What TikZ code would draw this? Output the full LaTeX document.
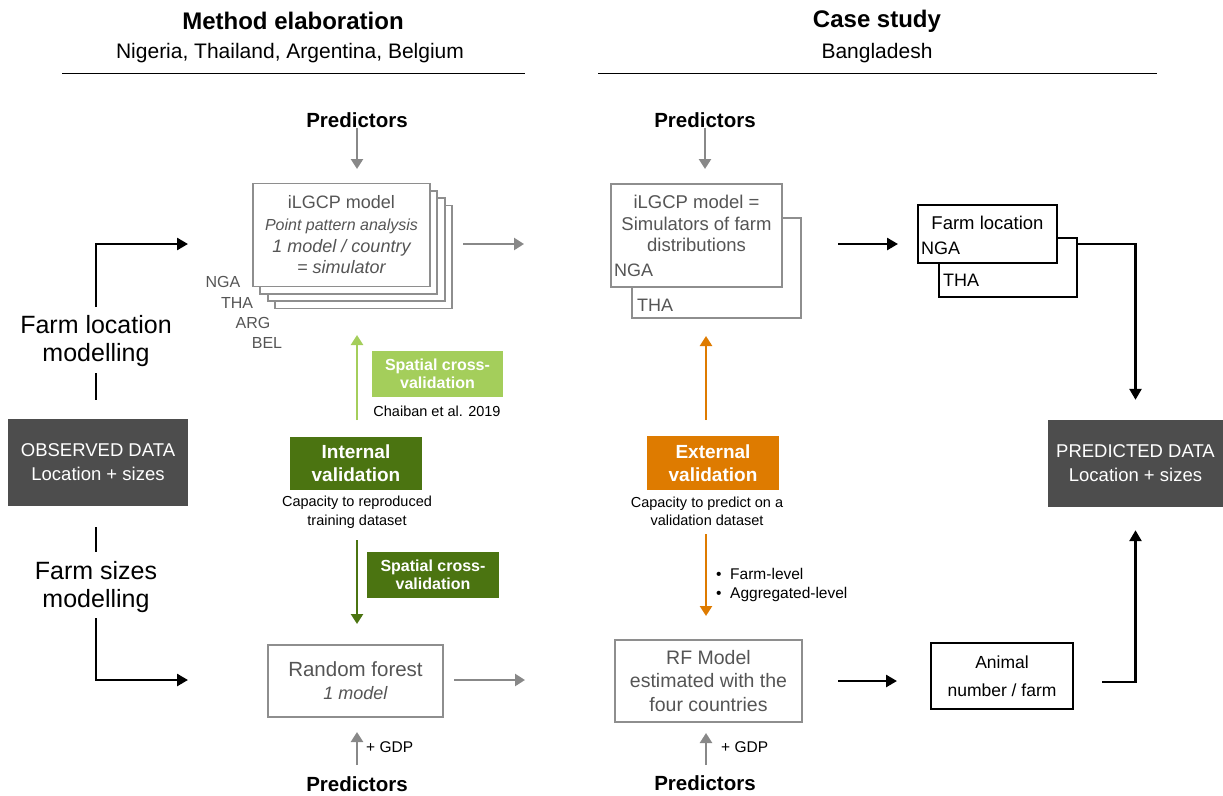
\documentclass[tikz,border=0pt]{standalone}
\usepackage{fontspec}
\setmainfont{Liberation Sans}
\usetikzlibrary{arrows.meta}
\definecolor{gline}{HTML}{8E8E8E}
\definecolor{gtext}{HTML}{555555}
\definecolor{garr}{HTML}{888888}
\definecolor{lgreen}{HTML}{A4CE5B}
\definecolor{dgreen}{HTML}{4B7411}
\definecolor{orng}{HTML}{DE7B00}
\definecolor{dbox}{HTML}{4D4D4D}
\tikzset{
  txt/.style={inner sep=0pt, align=center},
  title/.style={txt, font=\fontsize{24}{28}\selectfont\bfseries},
  subtitle/.style={txt, font=\fontsize{21}{25}\selectfont},
  predtxt/.style={txt, font=\fontsize{20.5}{24}\selectfont\bfseries},
  ctry/.style={txt, text=gtext, font=\fontsize{16}{19}\selectfont},
  gbox/.style={draw=gline, line width=1.8pt, fill=white, text=gtext, inner sep=0pt, align=center},
  bbox/.style={draw=black, line width=1.8pt, fill=white, inner sep=0pt, align=center},
  darkbox/.style={fill=dbox, text=white, inner sep=0pt, align=center, font=\fontsize{18.5}{24}\selectfont},
  valbox/.style={text=white, inner sep=0pt, align=center, font=\fontsize{19}{23}\selectfont\bfseries},
  scvbox/.style={text=white, inner sep=0pt, align=center, font=\fontsize{16}{18.5}\selectfont\bfseries},
  smalltxt/.style={txt, font=\fontsize{14.5}{19}\selectfont},
  sidetxt/.style={txt, font=\fontsize{25}{28.5}\selectfont},
  garrow/.style={draw=garr, line width=2.4pt, -{Triangle[length=10pt,width=12pt]}},
  barrow/.style={draw=black, line width=2.6pt, -{Triangle[length=11pt,width=12pt]}},
  bline/.style={draw=black, line width=2.6pt},
  carrow/.style={line width=2.4pt, -{Triangle[length=10pt,width=12pt]}},
}
\begin{document}
\begin{tikzpicture}[x=1pt,y=-1pt]
\useasboundingbox (0,0) rectangle (1223,795);

% ---------- headers ----------
\node[title] (t1) at (293,21) {Method elaboration};
\node[subtitle] (s1) at (290,53) {Nigeria, Thailand, Argentina, Belgium};
\node[title] (t2) at (877,21) {Case study};
\node[subtitle] (s2) at (877,53) {Bangladesh};
\coordinate (r1a) at (62,73.5);  \coordinate (r1b) at (525,73.5);
\coordinate (r2a) at (598,73.5); \coordinate (r2b) at (1157,73.5);
\draw[line width=1.6pt] (r1a) -- (r1b);
\draw[line width=1.6pt] (r2a) -- (r2b);

% ---------- predictors (top) ----------
\node[predtxt] (pred1) at (357,120) {Predictors};
\node[predtxt] (pred2) at (705,120) {Predictors};

% ---------- iLGCP stack (left) ----------
\node[gbox, minimum width=177pt, minimum height=103pt] (st4) at (363.4,256.9) {};
\node[gbox, minimum width=177pt, minimum height=103pt] (st3) at (356.1,249.6) {};
\node[gbox, minimum width=177pt, minimum height=103pt] (st2) at (348.8,242.3) {};
\node[gbox, minimum width=177pt, minimum height=103pt, font=\fontsize{18}{21.7}\selectfont] (st1) at (341.5,235)
  {iLGCP model\\ {\fontsize{16}{21.7}\selectfont\itshape Point pattern analysis}\\ \itshape 1 model / country\\ \itshape = simulator};
\node[ctry] (nga1) at (223,282) {NGA};
\node[ctry] (tha1) at (237,303) {THA};
\node[ctry] (arg1) at (253,323) {ARG};
\node[ctry] (bel1) at (267,343) {BEL};

\coordinate (p1e) at (357,169);
\draw[garrow] (pred1.south) -- (p1e);

% ---------- iLGCP (case study) ----------
\node[gbox, minimum width=169pt, minimum height=100pt] (ilgb) at (716.5,268) {};
\node[ctry, anchor=west, font=\fontsize{18}{21}\selectfont] (tha2) at (637,305) {THA};
\node[gbox, minimum width=171pt, minimum height=103pt] (ilg) at (696.5,235.5) {};
\node[txt, text=gtext, font=\fontsize{18.5}{21.5}\selectfont] (ilgt) at (696.5,223.5) {iLGCP model =\\ Simulators of farm\\ distributions};
\node[ctry, anchor=west, font=\fontsize{18}{21}\selectfont] (nga2) at (614,270) {NGA};

\coordinate (p2e) at (705,169);
\draw[garrow] (pred2.south) -- (p2e);

% arrow between columns (top)
\coordinate (m1s) at (463,244); \coordinate (m1e) at (524,244);
\draw[garrow] (m1s) -- (m1e);

% ---------- Farm location boxes ----------
\node[bbox, minimum width=138pt, minimum height=59pt] (flb) at (1008,267.5) {};
\node[txt, anchor=west, font=\fontsize{18}{21}\selectfont] (tha3) at (943,280) {THA};
\node[bbox, minimum width=139pt, minimum height=58pt] (flf) at (987.5,234) {};
\node[txt, font=\fontsize{18.5}{21}\selectfont] (flt) at (987.5,223) {Farm location};
\node[txt, anchor=west, font=\fontsize{18}{21}\selectfont] (nga3) at (921,248) {NGA};

\coordinate (m2s) at (838,244); \coordinate (m2e) at (898,244);
\draw[barrow] (m2s) -- (m2e);

% ---------- observed / predicted ----------
\node[darkbox, minimum width=180pt, minimum height=87pt] (obs) at (98,462.5) {OBSERVED DATA\\ Location + sizes};
\node[darkbox, minimum width=175pt, minimum height=87pt] (pred) at (1135.5,463.5) {PREDICTED DATA\\ Location + sizes};

\coordinate (fl1) at (1077,244);
\draw[barrow, shorten >=20pt] (fl1) -| (pred.north);

% ---------- left side ----------
\node[sidetxt] (flm) at (96,341) {Farm location\\ modelling};
\node[sidetxt] (fsm) at (96,587) {Farm sizes\\ modelling};
\coordinate (lt1) at (96,307); \coordinate (lt2) at (188,244);
\draw[barrow] (lt1) |- (lt2);
\coordinate (ls1) at (96,373); \coordinate (ls2) at (96,400);
\draw[bline] (ls1) -- (ls2);
\coordinate (ls3) at (96,527); \coordinate (ls4) at (96,552);
\draw[bline] (ls3) -- (ls4);
\coordinate (lb1) at (96,618); \coordinate (lb2) at (188,680);
\draw[barrow] (lb1) |- (lb2);

% ---------- internal validation ----------
\coordinate (ga1) at (357,420); \coordinate (ga2) at (357,335);
\draw[carrow, draw=lgreen, fill=lgreen] (ga1) -- (ga2);
\node[scvbox, fill=lgreen, minimum width=131pt, minimum height=46pt] (scv1) at (437.5,374) {Spatial cross-\\ validation};
\node[smalltxt] (chb) at (437,411) {Chaiban et al. 2019};
\node[valbox, fill=dgreen, minimum width=132pt, minimum height=53pt] (intv) at (356,463.5) {Internal\\ validation};
\node[smalltxt] (cap1) at (357,512.5) {Capacity to reproduced\\ training dataset};
\coordinate (gb1) at (357,540); \coordinate (gb2) at (357,624);
\draw[carrow, draw=dgreen, fill=dgreen] (gb1) -- (gb2);
\node[scvbox, fill=dgreen, minimum width=132pt, minimum height=46pt] (scv2) at (433,575) {Spatial cross-\\ validation};

% ---------- external validation ----------
\coordinate (oa1) at (706,420); \coordinate (oa2) at (706,336);
\draw[carrow, draw=orng, fill=orng] (oa1) -- (oa2);
\node[valbox, fill=orng, minimum width=132pt, minimum height=54pt] (extv) at (713,463) {External\\ validation};
\node[smalltxt, font=\fontsize{14.5}{18}\selectfont] (cap2) at (707,511.5) {Capacity to predict on a\\ validation dataset};
\coordinate (ob1) at (706,534); \coordinate (ob2) at (706,616);
\draw[carrow, draw=orng, fill=orng] (ob1) -- (ob2);
\node[txt, anchor=west, align=left, font=\fontsize{15.5}{19}\selectfont] (bul) at (716,584.5) {•\ \ Farm-level\\ •\ \ Aggregated-level};

% ---------- random forest ----------
\node[gbox, minimum width=175pt, minimum height=72pt, font=\fontsize{20.5}{23}\selectfont] (rf) at (355.5,681)
  {Random forest\\ {\fontsize{18}{23}\selectfont\itshape 1 model}};
\coordinate (m3s) at (454,680); \coordinate (m3e) at (525,680);
\draw[garrow] (m3s) -- (m3e);
\node[gbox, minimum width=187pt, minimum height=82pt, font=\fontsize{19.5}{23.5}\selectfont] (rfm) at (708.5,681)
  {RF Model\\ estimated with the\\ four countries};
\node[predtxt] (pred3) at (357,784) {Predictors};
\node[predtxt] (pred4) at (705,783) {Predictors};
\coordinate (p3s) at (357,765); \coordinate (p3e) at (357,732);
\draw[garrow] (p3s) -- (p3e);
\coordinate (p4s) at (706,765); \coordinate (p4e) at (706,733);
\draw[garrow] (p4s) -- (p4e);
\node[txt, anchor=west, font=\fontsize{15.5}{19}\selectfont] (gdp1) at (366,747) {+ GDP};
\node[txt, anchor=west, font=\fontsize{15.5}{19}\selectfont] (gdp2) at (721,747) {+ GDP};

% ---------- animal number ----------
\coordinate (m4s) at (838,681); \coordinate (m4e) at (897,681);
\draw[barrow] (m4s) -- (m4e);
\node[bbox, minimum width=142pt, minimum height=66pt, font=\fontsize{17.5}{28}\selectfont] (anim) at (1002,676) {Animal\\ number / farm};
\coordinate (an1) at (1102,682);
\draw[barrow, shorten >=23pt] (an1) -| (pred.south);
\end{tikzpicture}
\end{document}
